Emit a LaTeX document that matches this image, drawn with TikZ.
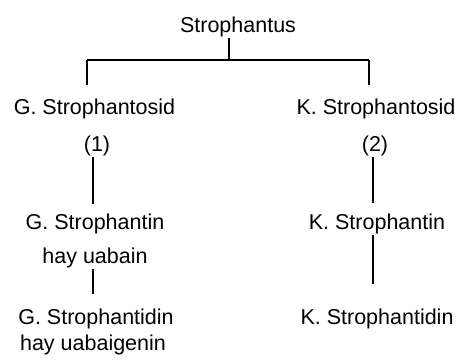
\documentclass[tikz,border=0pt]{standalone}
\usepackage{fontspec}
\setmainfont{Liberation Sans}
\begin{document}
\begin{tikzpicture}[x=1pt, y=-1pt, line width=1.8pt,
    tx/.style={anchor=base, inner sep=0pt, font=\fontsize{21.5}{26}\selectfont}]
  \useasboundingbox (0,0) rectangle (459,363);
  \node[tx] (sp) at (238,33) {Strophantus};
  \node[tx] (gsd) at (94.5,115) {G. Strophantosid};
  \node[tx] (ksd) at (376,115) {K. Strophantosid};
  \node[tx] (g1) at (97,152) {(1)};
  \node[tx] (k2) at (375,152) {(2)};
  \node[tx] (gst) at (95,230) {G. Strophantin};
  \node[tx] (gua) at (95,264) {hay uabain};
  \node[tx] (gsn) at (96,325) {G. Strophantidin};
  \node[tx] (gug) at (93,351) {hay uabaigenin};
  \node[tx] (kst) at (377,230) {K. Strophantin};
  \node[tx] (ksn) at (377,325) {K. Strophantidin};
  \coordinate (jn) at (229,60);
  \coordinate (jl) at (87,60);
  \coordinate (jr) at (369,60);
  \coordinate (lx) at (93,0);
  \coordinate (rx) at (373,0);
  \draw (jn |- sp.south) -- (jn);
  \draw (jl) -- (jr);
  \draw[shorten >=13.5pt] (jl) -- (jl |- gsd.north);
  \draw[shorten >=13.5pt] (jr) -- (jr |- ksd.north);
  \draw[shorten >=9.5pt] (lx |- g1.south) -- (lx |- gst.north);
  \draw[shorten >=14.5pt] (lx |- gua.south) -- (lx |- gsn.north);
  \draw[shorten >=10.5pt] (rx |- k2.south) -- (rx |- kst.north);
  \draw[shorten >=24.5pt] (rx |- kst.south) -- (rx |- ksn.north);
\end{tikzpicture}
\end{document}
